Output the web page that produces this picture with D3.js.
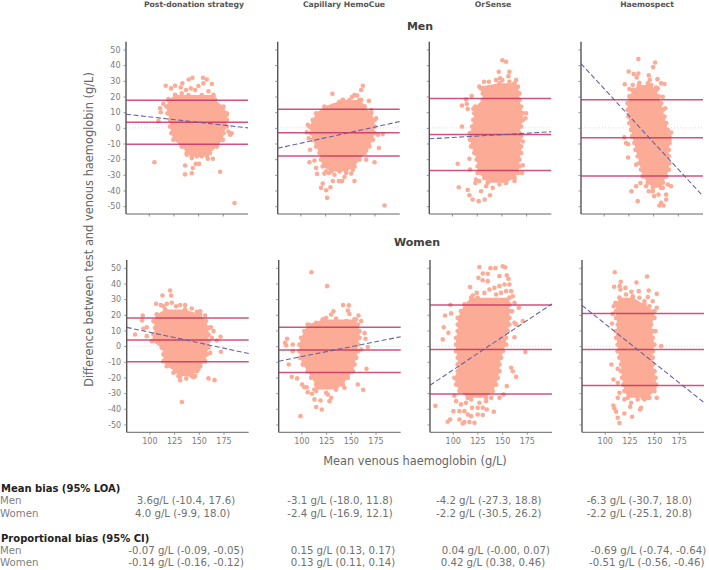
<!DOCTYPE html>
<html>
<head>
<meta charset="utf-8">
<script src="https://cdnjs.cloudflare.com/ajax/libs/d3/7.8.5/d3.min.js"></script>
<style>
  body { margin: 0; background: #fff; }
  svg { display: block; font-family: "DejaVu Sans", sans-serif; }
</style>
</head>
<body>
<div class="chart"></div>
<script>
// DATA -------------------------------
const methods = ["Post-donation strategy", "Capillary HemoCue", "OrSense", "Haemospect"];
const xTicks = [100, 125, 150, 175];
const yTicks = [-50, -40, -30, -20, -10, 0, 10, 20, 30, 40, 50];

// limits of agreement: [lower, mean, upper]
const menLoa = [[-10.4, 3.6, 17.6], [-18.0, -3.1, 11.8], [-27.3, -4.2, 18.8], [-30.7, -6.3, 18.0]];
const womenLoa = [[-9.9, 4.0, 18.0], [-16.9, -2.4, 12.1], [-30.5, -2.2, 26.2], [-25.1, -2.2, 20.8]];

// regression line: difference at the left and right of the x domain
const menTrend = [[8.7, 0], [-13, 4], [-7, -2.5], [41, -43.6]];
const womenTrend = [[12, -4.7], [-9.6, 6], [-25, 27], [26, -36]];

// dense body of each cloud: [difference, lowest Hb, highest Hb]
const menPostRows = [[21, 126.7, 165.5], [17.8, 120, 167], [13.6, 118, 175.7], [9.3, 119, 179], [5, 121.6, 179], [0.8, 121.6, 179], [-3.4, 123, 175.7], [-7.6, 125, 175], [-11.9, 133.4, 169], [-16, 138.5, 162], [-18, 143.6, 159]];
const menHemoRows = [[17.8, 142.9, 161.5], [13.6, 124.3, 164.9], [9.3, 115.9, 171.6], [5, 112.5, 175], [0.8, 109.1, 175], [-3.4, 110.8, 175], [-7.6, 112.5, 173.3], [-11.9, 115.9, 169.9], [-16, 119.3, 164.9], [-20.3, 120.9, 159.8], [-24.6, 122.6, 154.7], [-27.8, 131, 146.3]];
const menOrRows = [[28.4, 148, 163.2], [26.3, 127.7, 166.6], [22, 131.1, 168.2], [17.8, 131.1, 168.2], [13.6, 123.6, 169.9], [9.3, 122.6, 171.6], [5, 121.6, 171.6], [0.8, 120.3, 169.9], [-3.4, 118.2, 168.2], [-7.6, 118.2, 168.2], [-11.9, 119.3, 169.9], [-16, 122.6, 169.9], [-20.3, 125, 168.2], [-24.6, 126, 168.2], [-28.8, 126, 166.6], [-32, 132.8, 163.2], [-35, 136.1, 154.7]];
const menSpectRows = [[27.3, 135.5, 148], [24, 129.4, 153], [20, 126, 155.7], [15.7, 124.3, 158.1], [11.4, 124.3, 159.8], [7.2, 125, 161.5], [3, 126, 163.2], [-1.3, 127.7, 164.9], [-5.5, 128.7, 166.6], [-9.7, 131.1, 166.6], [-14, 132.1, 165.9], [-18.2, 134.5, 165.9], [-22.5, 136.1, 165.9], [-26.7, 137.8, 165.9], [-31, 139.5, 163.2], [-35, 144.6, 159.8], [-38.3, 149.7, 158.1]];
const womenPostRows = [[23.4, 115.9, 136.1], [20.2, 107.4, 151.4], [16, 104.1, 157.1], [11.7, 105.7, 159.8], [7.4, 104.1, 159.8], [3.2, 102.4, 159.8], [-1, 112.5, 159.8], [-5.3, 114.2, 158.1], [-9.6, 114.2, 156.4], [-12.8, 117.6, 151.4], [-16, 126, 148], [-19.1, 129.4, 142.9]];
const womenHemoRows = [[17, 121.6, 153.7], [13.8, 106.4, 157.1], [9.6, 103, 158.8], [5.3, 99.7, 158.8], [1, 98, 157.1], [-3.2, 98, 157.1], [-7.4, 98.6, 155.4], [-11.7, 101.4, 153.7], [-16, 106.4, 152], [-20.2, 109.8, 147], [-24.5, 114.9, 141.9], [-27.7, 113.2, 135.1]];
const womenOrRows = [[30.9, 118.6, 157.4], [26.6, 111.8, 157.4], [22.3, 108.4, 157.4], [18, 105.1, 157.4], [13.8, 105.1, 157.4], [9.6, 105.1, 155.7], [5.3, 103.4, 154], [1, 103.4, 154], [-3.2, 103.4, 150.7], [-7.4, 105.1, 149], [-11.7, 105.1, 147.3], [-16, 105.1, 147.3], [-20.2, 101.7, 145.6], [-24.5, 103.4, 143.9], [-28.7, 106.8, 140.5], [-33, 115.2, 133.8]];
const womenSpectRows = [[30.9, 114.9, 128.4], [26.6, 111.5, 140.2], [22.3, 111.5, 150.3], [18, 111.5, 150.3], [13.8, 113.2, 147], [9.6, 111.5, 148.6], [5.3, 111.5, 148.6], [1, 113.2, 150.3], [-3.2, 113.2, 148.6], [-7.4, 114.9, 148.6], [-11.7, 116.6, 148.6], [-16, 116.6, 150.3], [-20.2, 117.6, 151.4], [-24.5, 118.9, 152], [-28.7, 119.9, 150.3], [-33, 123.3, 143.6]];

// donors outside the dense body: [mean Hb, difference]
const menPostOut = [[105.7, -22], [136.8, -24], [136.8, -29.7], [143.6, -29], [144.6, -25.6], [172.3, -28], [186.8, -48], [147.6, -23], [151, -23], [159.8, -19.7], [164.9, -19.7], [117.2, 26.9], [126.7, 26.9], [122.6, 25.2], [134, 28.4], [140.5, 30.9], [144.3, 32], [155, 32], [158.8, 30.9], [163.9, 28], [155.4, 28.4], [150.3, 26.7], [137.8, 24.2], [142.6, 25.2], [132.4, 25.8], [111.5, 12.5], [114.9, 15.3], [112.2, 10], [109.8, 4.4], [120, 18.4], [180.7, -2.3], [184, -3.4], [182.4, -4.4], [179, 8.3], [128.4, 19.9], [133.4, 22], [140.2, 21], [147, 24.2], [153.7, 21], [160.5, 23.3], [165.5, 19.9], [138.5, -17.2], [143.6, -19.3], [148.6, -18.2], [153.7, -18.2], [158.8, -15]];
const menHemoOut = [[132.4, 21.8], [163.2, 26.9], [161.5, 24.2], [157.4, 20.6], [152.4, 19.9], [169.3, 17.2], [144.6, 16.7], [138.9, 15.7], [129.4, 13.1], [107.4, 1.9], [106.4, -2.8], [108.4, -6.6], [109.1, -22], [114.2, -20.8], [109.8, -14], [115.9, -25.6], [116.9, -29.4], [124.3, -29.2], [128.7, -28.8], [120.9, -38.3], [122.6, -35.6], [126, -39.8], [127, -44.7], [130.4, -37.9], [132.8, -34], [138.9, -34], [142.2, -34], [144.6, -31.4], [154.7, -34], [151.4, -29.2], [166.6, -20.3], [175, -22], [179.4, -12.9], [183.4, -4], [178.4, -4.4], [176.7, 6.1], [185.1, -49.6], [166.6, -14.4], [132.8, 14], [139.5, 16.7], [146.3, 15.7], [149.7, 17.8], [154.7, 21], [159.8, 17.8], [164.9, 13.6], [171.6, 11.4], [126, -27.8], [134.5, -29.9], [139.5, -27.8], [146.3, -28.8], [153, -26.7]];
const menOrOut = [[151, 43.2], [154.7, 42.2], [147.3, 35.8], [158.1, 35.8], [157.1, 33], [148.6, 31.6], [132.4, 29.4], [137.2, 29.4], [129.4, 25.2], [119.9, 20.3], [114.2, 18.2], [110.1, 14.2], [114.9, 15.3], [115.9, 12.1], [121.6, 12.1], [175, 9.3], [174.3, 6.1], [110.1, 0.8], [105.7, -22.9], [117.6, -19.7], [118.2, -26.7], [106.8, -37.9], [115.9, -39.6], [117.6, -43], [120.9, -45.8], [127, -46.8], [133.1, -45.8], [138.5, -43], [129.4, -40.5], [124.3, -33], [123.6, -35.2], [163.2, -34], [170.9, -28.8], [171.6, -23.9], [171.6, -8.7], [169.9, -5.5], [131.1, 25.2], [137.8, 25.8], [144.6, 30.5], [151, 30.5], [158.1, 29.4], [164.9, 30.5], [127.7, -34], [134.5, -37.3], [141.2, -38.3], [148, -36.2], [154.7, -35.2]];
const menSpectOut = [[135.1, 43.9], [152, 41.7], [150, 38.8], [125.3, 36], [130.4, 34.3], [135.1, 34.7], [133.4, 32.2], [145.6, 33.5], [146.6, 30.5], [121.3, 27.8], [126, 24.8], [154.4, 31.1], [158.1, 28.4], [161.5, 28], [154.7, 25.2], [159.8, 19.9], [162.2, 12.5], [120.9, -6.1], [122.6, -9.7], [124.7, -10.4], [124.7, -18.9], [132.8, -23.5], [168.2, -3], [166.6, -7.6], [166.6, -22.5], [168.2, -37.3], [137.2, -35.2], [132.8, -37.3], [128, -40.5], [145.6, -40.5], [151, -43.6], [155.4, -42.6], [163.2, -42.6], [163.2, -45.8], [134.5, -46.8], [158.1, -47.9], [156.4, -49.6], [160.5, -49.6], [129.4, 27.3], [136.1, 28.8], [144.6, 28.4], [153, 25.8], [142.9, -37.3], [149.7, -40.5], [159.8, -38.3], [164.9, -36.2]];
const womenPostOut = [[120.9, 35.5], [113.2, 32.3], [122, 32.3], [106.8, 27], [111.5, 26.2], [117.6, 27], [127, 25.5], [136.1, 26.2], [151.4, 22.3], [156.4, 19.6], [93.2, 19.6], [92.6, 16.4], [85.5, 7.4], [93.9, 11.1], [97.3, 12.1], [97.3, 6.4], [162.2, 12.1], [164.9, 9.6], [163.2, 5.3], [172, 6], [168.2, 3.6], [172.3, -3.6], [161.5, -4.3], [159.8, -20.6], [165.9, -21.7], [131.1, -21.7], [137.2, -20.6], [144.6, -19.8], [132.8, -35.7], [142.2, -18.1], [149.7, -14.5], [114.2, 25.5], [122.6, 27.7], [131.1, 26.2], [142.9, 24], [148, 21.9], [124.3, -17], [131.1, -19.1], [139.5, -18.1], [146.3, -19.1]];
const womenHemoOut = [[110.1, 47.2], [126, 38.3], [142.2, 26.2], [148, 26], [147, 22.8], [148.6, 20.6], [132.4, 22.3], [130.1, 20.2], [157.8, 19.6], [160.5, 16], [108.1, 13.4], [163.9, 8.3], [164.9, 4.7], [167.2, -0.6], [160.5, -2.1], [165.9, -14.5], [85.5, 4.7], [83.4, 2.1], [84.5, 0.6], [91.2, 1.1], [87.2, -11.7], [90.2, -19.6], [95.6, -20.6], [100.7, -24.5], [103, -26.2], [106.4, -29.4], [105.4, -26.2], [157.1, -24.5], [162.5, -27.9], [143.6, -26.6], [113.2, -34], [114.9, -38.9], [120.6, -40.4], [119.3, -34.7], [110.8, -30.4], [128.4, -35.1], [130.1, -33], [126.7, -30.9], [99, -44.7], [91.2, -3.2], [114.9, 14.9], [125, 18], [135.1, 17.7], [145.3, 16], [155.4, 17], [114.9, -28.7], [125, -29.8], [135.1, -25.5], [141.9, -24.5]];
const womenOrOut = [[127, 50.5], [138.2, 49.8], [143.2, 49.8], [150.7, 51], [153, 50.4], [130.4, 46.4], [126, 43.6], [130.4, 42.1], [135.5, 46.2], [135.5, 41.5], [147.3, 44.7], [154.7, 45.3], [156.4, 43], [117.6, 37.7], [124.3, 34], [142.2, 37.2], [147.3, 38.3], [152.4, 39.4], [157.4, 39.4], [159.1, 35.1], [160.8, 31.9], [162.5, 27.7], [160.1, 22.3], [166.9, 24.5], [170.9, 16], [162.5, 14.9], [164.2, 13.8], [162.5, 5.7], [173.6, -3.8], [159.1, -13.8], [160.8, -16], [164.2, -19.6], [154.7, -25.5], [151.4, -30.9], [147.3, -33], [141.6, -41.9], [134.5, -40.4], [130.4, -44], [130.4, -39.4], [127, -36.2], [119.6, -39.4], [115.2, -43.6], [111.8, -48.5], [106.8, -46.8], [97.3, -46.8], [94.9, -48.3], [110.1, -49.4], [116.9, -48.5], [122, -48.9], [82.4, -38.1], [100.7, -41.5], [101.7, -31.7], [89.9, 4.3], [90.9, 12.1], [92.2, 19.6], [97.6, 26.4], [95.6, 8.5], [98.3, 20.9], [120.3, 32.3], [125.3, 30.9], [132.1, 34], [137.2, 36.2], [143.9, 33], [148.9, 34], [154, 35.1], [103.4, -35.1], [108.4, -37.2], [113.5, -36.2], [118.6, -34], [125.3, -39.4], [133.8, -35.1], [138.9, -33], [106.8, -41.5], [111.8, -41.5], [118.6, -44.7], [125.3, -43.6]];
const womenSpectOut = [[110.1, 47.2], [116.2, 41.1], [142.9, 44.5], [132.1, 40.6], [109.5, 37.9], [115.2, 38.3], [115.9, 36.2], [120.9, 37.2], [134.5, 35.1], [127, 34.7], [144.6, 35.5], [152.7, 33.4], [143.6, 31.3], [148.6, 28.7], [152.7, 24.5], [110.8, 27.7], [109.1, 25.5], [108.1, 20.6], [107.4, 14.5], [151.4, 9.6], [157.1, 0], [106.8, -11.7], [113.2, -14.5], [108.8, -21.3], [113.2, -23.4], [114.9, -29.8], [113.2, -33], [152.7, -33], [140.2, -34], [136.8, -39.4], [135.8, -40.4], [125.7, -38.7], [119.9, -43], [127.7, -45.1], [108.8, -37.9], [109.8, -39.8], [111.5, -41.9], [113.2, -45.7], [114.9, -49.1], [150.3, -26.6], [121.6, 33], [128.4, 31.9], [135.1, 30.9], [140.2, 28.7], [145.3, 25.5], [119.9, -34], [126.7, -36.2], [133.4, -34], [138.5, -33], [145.3, -33]];

// table below the panels
const meanBiasMen = ["3.6g/L (-10.4, 17.6)", "-3.1 g/L (-18.0, 11.8)", "-4.2 g/L (-27.3, 18.8)", "-6.3 g/L (-30.7, 18.0)"];
const meanBiasWomen = ["4.0 g/L (-9.9, 18.0)", "-2.4 g/L (-16.9, 12.1)", "-2.2 g/L (-30.5, 26.2)", "-2.2 g/L (-25.1, 20.8)"];
const propBiasMen = ["-0.07 g/L (-0.09, -0.05)", "0.15 g/L (0.13, 0.17)", "0.04 g/L (-0.00, 0.07)", "-0.69 g/L (-0.74, -0.64)"];
const propBiasWomen = ["-0.14 g/L (-0.16, -0.12)", "0.13 g/L (0.11, 0.14)", "0.42 g/L (0.38, 0.46)", "-0.51 g/L (-0.56, -0.46)"];

// CHART INIT -------------------------
const svg = d3.select(".chart").append("svg").attr("width", 709).attr("height", 570);
const panelWidth = 122;
const xDomain = [77, 200.5];
const yDomain = [-55, 55];
const dotColor = "#fbab96";

const rowsData = [
  {name: "men", top: 41.7, bottom: 214, lefts: [126, 277.7, 429.3, 581], loa: menLoa, trend: menTrend,
   body: [menPostRows, menHemoRows, menOrRows, menSpectRows], out: [menPostOut, menHemoOut, menOrOut, menSpectOut]},
  {name: "women", top: 260, bottom: 432.3, lefts: [126.7, 278.7, 430, 582], loa: womenLoa, trend: womenTrend,
   body: [womenPostRows, womenHemoRows, womenOrRows, womenSpectRows], out: [womenPostOut, womenHemoOut, womenOrOut, womenSpectOut]}
];

function drawPanel(row, i) {
  const x = d3.scaleLinear().domain(xDomain).range([0, panelWidth]);
  const y = d3.scaleLinear().domain(yDomain).range([row.bottom - row.top, 0]);
  const g = svg.append("g").attr("transform", `translate(${row.lefts[i]},${row.top})`);

  // zero line sits under the cloud
  g.append("line")
    .attr("x1", 0).attr("x2", panelWidth)
    .attr("y1", y(0)).attr("y2", y(0))
    .attr("stroke", "#d8d8d8").attr("stroke-width", 1).attr("stroke-dasharray", "1,2");

  const area = d3.area()
    .y(d => y(d[0]))
    .x0(d => x(d[1]))
    .x1(d => x(d[2]));
  g.append("path").datum(row.body[i]).attr("d", area).attr("fill", dotColor);

  // edge of the dense body, so the rim looks like dots
  g.selectAll(".rim")
    .data(row.body[i].flatMap(d => [[d[1], d[0]], [d[2], d[0]]]))
    .enter().append("circle")
    .attr("class", "rim")
    .attr("cx", d => x(d[0])).attr("cy", d => y(d[1])).attr("r", 2.4)
    .attr("fill", dotColor);

  g.selectAll(".dot")
    .data(row.out[i])
    .enter().append("circle")
    .attr("class", "dot")
    .attr("cx", d => x(d[0])).attr("cy", d => y(d[1])).attr("r", 2.3)
    .attr("fill", dotColor);

  g.selectAll(".loa")
    .data(row.loa[i])
    .enter().append("line")
    .attr("class", "loa")
    .attr("x1", 0).attr("x2", panelWidth)
    .attr("y1", d => y(d)).attr("y2", d => y(d))
    .attr("stroke", "#c5285c").attr("stroke-opacity", 0.8).attr("stroke-width", 1.5);

  g.append("line")
    .attr("x1", x(xDomain[0])).attr("x2", x(xDomain[1]))
    .attr("y1", y(row.trend[i][0])).attr("y2", y(row.trend[i][1]))
    .attr("stroke", "#5c5ca6").attr("stroke-opacity", 0.95).attr("stroke-width", 1.1).attr("stroke-dasharray", "5,2.5");

  const yAxis = d3.axisLeft(y).tickValues(yTicks).tickSize(2.5).tickPadding(3)
    .tickFormat(i === 0 ? d => d : "");
  const xAxis = d3.axisBottom(x).tickValues(xTicks).tickSize(2.5).tickPadding(4)
    .tickFormat(row.name === "women" ? d => d : "");

  const ya = g.append("g").call(yAxis);
  const xa = g.append("g").attr("transform", `translate(0,${row.bottom - row.top})`).call(xAxis);
  [ya, xa].forEach(a => {
    a.selectAll("text").attr("font-size", 8).attr("fill", "#7a7a7a").attr("font-family", "DejaVu Sans");
    a.selectAll(".tick line").attr("stroke", "#777").attr("stroke-width", 0.8);
  });
  ya.select(".domain").attr("d", `M0,0V${row.bottom - row.top}`).attr("stroke", "#555").attr("stroke-width", 1.4);
  xa.select(".domain").attr("d", `M0,0H${panelWidth}`).attr("stroke", "#666").attr("stroke-width", 1);
}

rowsData.forEach(row => methods.forEach((m, i) => drawPanel(row, i)));

// TITLES -----------------------------
const methodCentres = [194, 344, 493, 647];
svg.selectAll(".method").data(methods).enter().append("text")
  .attr("class", "method")
  .attr("x", (d, i) => methodCentres[i]).attr("y", 7)
  .attr("text-anchor", "middle").attr("font-size", 7.7).attr("font-weight", "bold").attr("fill", "#555")
  .text(d => d);

svg.append("text").attr("x", 420).attr("y", 30).attr("text-anchor", "middle")
  .attr("font-size", 11).attr("font-weight", "bold").attr("fill", "#404040").text("Men");
svg.append("text").attr("x", 417).attr("y", 246).attr("text-anchor", "middle")
  .attr("font-size", 11).attr("font-weight", "bold").attr("fill", "#404040").text("Women");

svg.append("text").attr("transform", "translate(93,229.5) rotate(-90)").attr("text-anchor", "middle")
  .attr("font-size", 11.4).attr("fill", "#666").text("Difference between test and venous haemoglobin (g/L)");
svg.append("text").attr("x", 415).attr("y", 465).attr("text-anchor", "middle")
  .attr("font-size", 11.4).attr("fill", "#666").text("Mean venous haemoglobin (g/L)");

// TABLE ------------------------------
const meanMenCols = [136.7, 287.3, 436, 586.7];
const meanWomenCols = [135, 287.3, 436, 586.7];
const propMenCols = [128.3, 290.7, 441.7, 590.7];
const propWomenCols = [128.3, 290.7, 440.7, 589];
const tableSize = 10.2;

function tableRow(label, values, cols, yPos) {
  svg.append("text").attr("x", 0).attr("y", yPos).attr("font-size", tableSize).attr("fill", "#808080").text(label);
  svg.selectAll(null).data(values).enter().append("text")
    .attr("x", (d, i) => cols[i]).attr("y", yPos)
    .attr("font-size", tableSize).attr("fill", "#707070").text(d => d);
}

svg.append("text").attr("x", 1).attr("y", 491.7).attr("font-size", 10).attr("font-weight", "bold").attr("fill", "#222").text("Mean bias (95% LOA)");
tableRow("Men", meanBiasMen, meanMenCols, 504);
tableRow("Women", meanBiasWomen, meanWomenCols, 516.7);
svg.append("text").attr("x", 1).attr("y", 542).attr("font-size", 10).attr("font-weight", "bold").attr("fill", "#222").text("Proportional bias (95% CI)");
tableRow("Men", propBiasMen, propMenCols, 554.3);
tableRow("Women", propBiasWomen, propWomenCols, 566.3);
</script>
</body>
</html>
